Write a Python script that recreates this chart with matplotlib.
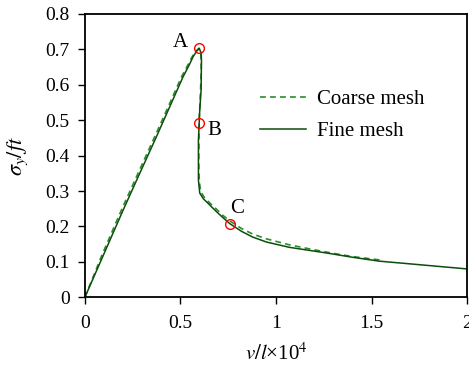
import matplotlib.pyplot as plt

plt.rcParams['font.family'] = ['Liberation Serif', 'DejaVu Serif']
plt.rcParams['mathtext.fontset'] = 'stix'

# fine mesh curve
fine_x = [0, 0.1, 0.2, 0.287, 0.374, 0.444, 0.514, 0.545, 0.566, 0.585, 0.598, 0.608,
          0.610, 0.608, 0.600, 0.598, 0.594, 0.594, 0.601, 0.62, 0.645, 0.688, 0.72,
          0.758, 0.82, 0.878, 0.95, 1.07, 1.265, 1.4, 1.54, 1.75, 2.0]
fine_y = [0, 0.123, 0.246, 0.35, 0.453, 0.538, 0.623, 0.655, 0.679, 0.695, 0.703, 0.69,
          0.67, 0.585, 0.52, 0.491, 0.444, 0.331, 0.294, 0.278, 0.265, 0.242, 0.226,
          0.208, 0.186, 0.170, 0.156, 0.141, 0.125, 0.113, 0.102, 0.092, 0.080]

# coarse mesh curve
coarse_x = [0, 0.09, 0.19, 0.278, 0.365, 0.436, 0.506, 0.54, 0.562, 0.583, 0.597, 0.607,
            0.609, 0.604, 0.598, 0.597, 0.596, 0.598, 0.606, 0.625, 0.65, 0.69, 0.72,
            0.763, 0.82, 0.88, 0.95, 1.07, 1.2, 1.3, 1.4, 1.55]
coarse_y = [0, 0.12, 0.245, 0.35, 0.453, 0.538, 0.623, 0.657, 0.68, 0.696, 0.703, 0.69,
            0.64, 0.57, 0.50, 0.45, 0.38, 0.33, 0.298, 0.282, 0.268, 0.248, 0.232,
            0.214, 0.194, 0.178, 0.165, 0.148, 0.134, 0.124, 0.115, 0.105]

# marked points A, B, C
pt_labels = ['A', 'B', 'C']
pt_x = [0.598, 0.598, 0.76]
pt_y = [0.703, 0.492, 0.207]
lbl_x = [0.50, 0.675, 0.795]
lbl_y = [0.718, 0.472, 0.252]

fig = plt.figure(figsize=(4.69, 3.67), dpi=100)
ax = fig.add_axes([0.181, 0.19, 0.815, 0.772])

ax.plot(coarse_x, coarse_y, color='#2a8c2a', lw=1.2, ls=(0, (3.5, 2.5)), label='Coarse mesh')
ax.plot(fine_x, fine_y, color='#0b4d0b', lw=1.1, label='Fine mesh')
ax.plot(pt_x, pt_y, 'o', ms=7, mfc='none', mec='red', mew=1.0)
for t, x, y in zip(pt_labels, lbl_x, lbl_y):
    ax.text(x, y, t, fontsize=15, ha='center', va='center')

ax.set_xlim(0, 2)
ax.set_ylim(0, 0.8)
ax.set_xticks([0, 0.5, 1, 1.5, 2])
ax.set_xticklabels(['0', '0.5', '1', '1.5', '2'])
ax.set_yticks([0, 0.1, 0.2, 0.3, 0.4, 0.5, 0.6, 0.7, 0.8])
ax.set_yticklabels(['0', '0.1', '0.2', '0.3', '0.4', '0.5', '0.6', '0.7', '0.8'])
ax.tick_params(direction='out', length=5, width=1, labelsize=14)
ax.tick_params(axis='x', pad=8)
ax.tick_params(axis='y', pad=6)
for s in ax.spines.values():
    s.set_linewidth(1.3)

ax.set_xlabel(r'$v/l$' + '×10$^4$', fontsize=15, labelpad=8)
ax.set_ylabel(r'$\sigma_{y}/ft$', fontsize=16, labelpad=11)

ax.legend(loc='upper left', bbox_to_anchor=(0.41, 0.80), frameon=False, fontsize=15,
          handlelength=2.2, handletextpad=0.5, labelspacing=0.6, borderpad=0.4)

fig.savefig('out.png', dpi=100)
